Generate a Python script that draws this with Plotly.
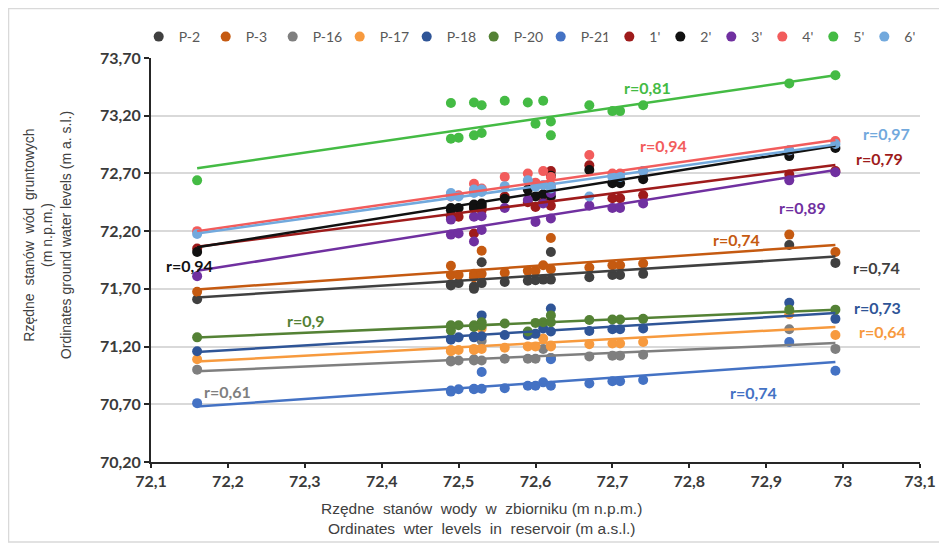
import plotly.graph_objects as go

# ---------------- DATA ----------------
x_reservoir = [72.16, 72.49, 72.49, 72.50, 72.52, 72.52, 72.53, 72.53, 72.56, 72.59,
               72.60, 72.61, 72.62, 72.62, 72.67, 72.70, 72.71, 72.74, 72.93, 72.99]

p2 = [71.61, 71.74, 71.73, 71.75, 71.70, 71.72, 71.93, 71.75, 71.76, 71.77,
      71.775, 71.78, 72.02, 71.78, 71.80, 71.82, 71.82, 71.83, 72.08, 71.925]
p3 = [71.675, 71.90, 71.82, 71.82, 71.83, 71.80, 72.03, 71.83, 71.84, 71.856,
      71.856, 71.905, 72.14, 71.87, 71.885, 71.905, 71.905, 71.92, 72.17, 72.02]
p16 = [71.00, 71.08, 71.07, 71.08, 71.09, 71.08, 71.25, 71.08, 71.095, 71.095,
       71.095, 71.18, 71.10, 71.10, 71.115, 71.12, 71.12, 71.13, 71.35, 71.18]
p17 = [71.09, 71.17, 71.16, 71.17, 71.18, 71.17, 71.356, 71.18, 71.19, 71.20,
       71.20, 71.27, 71.20, 71.21, 71.22, 71.226, 71.226, 71.24, 71.48, 71.30]
p18 = [71.16, 71.27, 71.26, 71.28, 71.29, 71.28, 71.47, 71.29, 71.30, 71.30,
       71.31, 71.356, 71.53, 71.33, 71.335, 71.35, 71.35, 71.356, 71.58, 71.44]
p20 = [71.28, 71.385, 71.34, 71.385, 71.385, 71.37, 71.41, 71.38, 71.40, 71.33,
       71.405, 71.41, 71.47, 71.41, 71.43, 71.435, 71.435, 71.44, 71.52, 71.52]
p21 = [70.71, 70.82, 70.81, 70.83, 70.835, 70.83, 70.98, 70.835, 70.84, 70.86,
       70.86, 70.89, 71.09, 70.86, 70.88, 70.90, 70.90, 70.91, 71.24, 70.99]
w1 = [72.05, 72.325, 72.33, 72.325, 72.18, 72.40, 72.40, 72.38, 72.50, 72.45,
      72.41, 72.45, 72.72, 72.42, 72.77, 72.485, 72.485, 72.51, 72.69, 72.72]
w2 = [72.02, 72.40, 72.38, 72.40, 72.43, 72.40, 72.44, 72.42, 72.48, 72.56,
      72.50, 72.52, 72.68, 72.50, 72.73, 72.615, 72.615, 72.65, 72.85, 72.92]
w3 = [71.81, 72.30, 72.17, 72.18, 72.325, 72.11, 72.33, 72.21, 72.40, 72.47,
      72.28, 72.44, 72.53, 72.31, 72.42, 72.40, 72.40, 72.44, 72.64, 72.71]
w4 = [72.20, 72.52, 72.50, 72.51, 72.61, 72.55, 72.57, 72.55, 72.67, 72.70,
      72.62, 72.72, 72.67, 72.60, 72.86, 72.70, 72.70, 72.72, 72.90, 72.98]
w5 = [72.64, 73.31, 73.00, 73.01, 73.315, 73.03, 73.29, 73.05, 73.33, 73.315,
      73.13, 73.33, 73.15, 73.03, 73.29, 73.24, 73.24, 73.29, 73.48, 73.55]
w6 = [72.175, 72.53, 72.50, 72.50, 72.56, 72.53, 72.56, 72.54, 72.59, 72.64,
      72.585, 72.60, 72.585, 72.57, 72.50, 72.67, 72.67, 72.72, 72.90, 72.955]

series_names = ["P-2", "P-3", "P-16", "P-17", "P-18", "P-20", "P-21",
                "1'", "2'", "3'", "4'", "5'", "6'"]
series_values = [p2, p3, p16, p17, p18, p20, p21, w1, w2, w3, w4, w5, w6]

# trend lines at the first and last reservoir level
trend_x = [72.16, 72.99]
trend_start = [71.625, 71.695, 70.986, 71.07, 71.153, 71.278, 70.68,
               72.065, 72.06, 71.856, 72.20, 72.745, 72.18]
trend_end = [71.98, 72.08, 71.23, 71.37, 71.49, 71.52, 71.066,
             72.774, 72.94, 72.73, 72.99, 73.55, 72.95]

r_labels = ["r=0,74", "r=0,74", "r=0,61", "r=0,64", "r=0,73", "r=0,9", "r=0,74",
            "r=0,79", "r=0,94", "r=0,89", "r=0,94", "r=0,81", "r=0,97"]
r_label_x = [73.044, 72.862, 72.200, 73.051, 73.045, 72.302, 72.884,
             73.047, 72.150, 72.947, 72.766, 72.746, 73.057]
r_label_y = [71.888, 72.131, 70.813, 71.333, 71.541, 71.429, 70.804,
             72.826, 71.906, 72.409, 72.939, 73.442, 73.043]

x_tickvals = [72.1, 72.2, 72.3, 72.4, 72.5, 72.6, 72.7, 72.8, 72.9, 73.0, 73.1]
x_ticktext = ["72,1", "72,2", "72,3", "72,4", "72,5", "72,6", "72,7", "72,8",
              "72,9", "73", "73,1"]
y_tickvals = [70.2, 70.7, 71.2, 71.7, 72.2, 72.7, 73.2, 73.7]
y_ticktext = ["70,20", "70,70", "71,20", "71,70", "72,20", "72,70", "73,20", "73,70"]

colors = ["#404040", "#C55A11", "#7F7F7F", "#F79A3E", "#2F5597", "#548235", "#4472C4",
          "#9E1B1B", "#111111", "#7030A0", "#F25C5C", "#44BB44", "#72A9DD"]

# ---------------- FIGURE ----------------
fig = go.Figure()

for i, name in enumerate(series_names):
    fig.add_trace(go.Scatter(
        x=x_reservoir, y=series_values[i], mode="markers", name=name,
        marker=dict(color=colors[i], size=10),
        legend="legend" if i < 7 else "legend2",
        hoverinfo="x+y+name"))

for i, name in enumerate(series_names):
    fig.add_trace(go.Scatter(
        x=trend_x, y=[trend_start[i], trend_end[i]], mode="lines",
        line=dict(color=colors[i], width=2.5), showlegend=False, hoverinfo="skip"))

for i in range(len(series_names)):
    fig.add_annotation(x=r_label_x[i], y=r_label_y[i], xref="x", yref="y",
                       text=r_labels[i], showarrow=False,
                       font=dict(family="Lato", size=16, color=colors[i], weight="bold"))

# axis titles
fig.add_annotation(x=-0.135, y=0.562, xref="paper", yref="paper", textangle=-90,
                   text="Rzędne  stanów  wód  gruntowych<br>(m n.p.m.)<br>Ordinates ground water levels (m a. s.l.)",
                   showarrow=False, xanchor="center", yanchor="middle",
                   font=dict(family="Liberation Sans Narrow, Arial Narrow, sans-serif", size=14, color="#404040"))
fig.add_annotation(x=(481 - 151) / 769, y=(462 - 519) / 404, xref="paper", yref="paper",
                   text="Rzędne  stanów  wody  w  zbiorniku (m n.p.m.)<br>Ordinates  wter  levels  in  reservoir (m a.s.l.)",
                   showarrow=False, xanchor="center", yanchor="middle",
                   font=dict(family="Liberation Sans Narrow, Arial Narrow, sans-serif", size=15.5, color="#404040"))

# outer frame
fig.add_shape(type="rect", xref="paper", yref="paper",
              x0=-0.1853, x1=1.0338, y0=-0.198, y1=1.1225,
              line=dict(color="#D9D9D9", width=1.5), layer="below")

fig.update_layout(
    width=939, height=535,
    margin=dict(l=143, r=27, t=50, b=81),
    paper_bgcolor="white", plot_bgcolor="white",
    showlegend=True,
    legend=dict(orientation="h", x=-0.016, xanchor="left", y=1.052, yanchor="middle",
                entrywidth=22, entrywidthmode="pixels", itemwidth=30,
                font=dict(family="Lato", size=14, color="#595959"),
                bgcolor="rgba(0,0,0,0)", borderwidth=0),
    legend2=dict(orientation="h", x=0.596, xanchor="left", y=1.052, yanchor="middle",
                 entrywidth=6, entrywidthmode="pixels", itemwidth=30,
                 font=dict(family="Lato", size=14, color="#595959"),
                 bgcolor="rgba(0,0,0,0)", borderwidth=0),
    xaxis=dict(range=[72.1, 73.1], tickvals=x_tickvals, ticktext=x_ticktext,
               showgrid=False, zeroline=False, showline=True, linecolor="#262626",
               linewidth=2, ticks="outside", ticklen=4, tickwidth=2, tickcolor="#262626",
               tickfont=dict(family="Lato", size=16, color="#3A3A3A", weight="bold")),
    yaxis=dict(range=[70.2, 73.7], tickvals=y_tickvals, ticktext=y_ticktext,
               showgrid=True, gridcolor="#D9D9D9", gridwidth=1.5, zeroline=False,
               showline=True, linecolor="#262626", linewidth=2,
               ticks="outside", ticklen=5, tickwidth=1.5, tickcolor="#262626",
               tickfont=dict(family="Lato", size=16, color="#3A3A3A", weight="bold")),
)

fig.write_html("out.html")
